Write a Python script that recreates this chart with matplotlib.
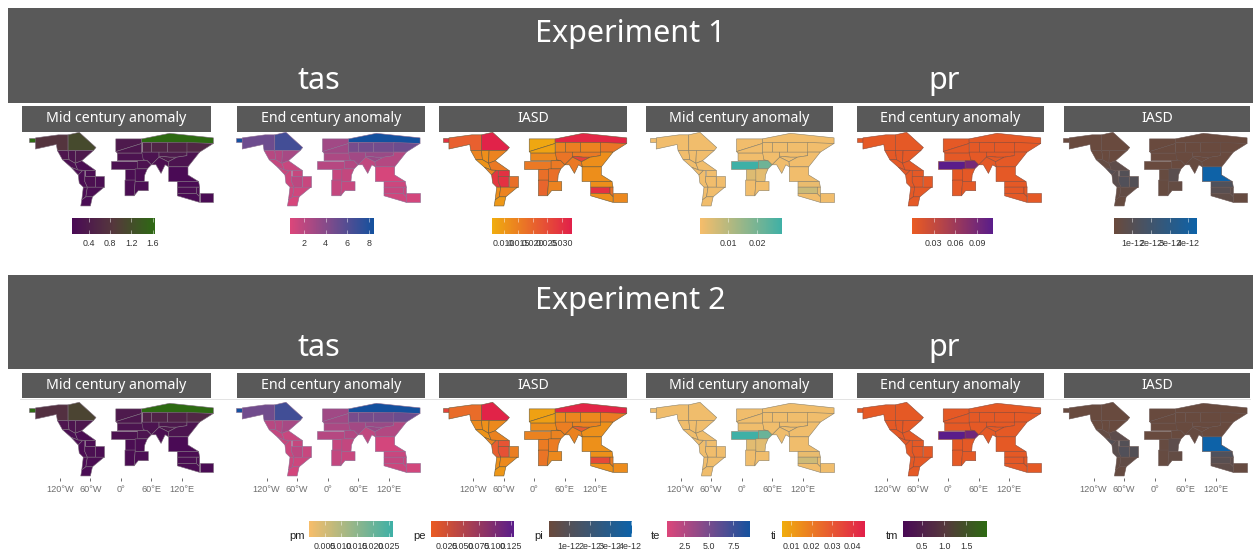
import matplotlib
matplotlib.use("Agg")
import matplotlib.pyplot as plt
from matplotlib.collections import PolyCollection
from matplotlib.colors import LinearSegmentedColormap, Normalize
from matplotlib.cm import ScalarMappable
from matplotlib.patches import Rectangle

W, H = 1253, 550

# region outlines, lon/lat
ALK = [(-180,73),(-168,73),(-168,64),(-180,64)]
NWN = [(-168,73),(-123,79),(-104,79),(-104,48),(-125,48),(-127,60),(-168,51)]
NEN = [(-104,79),(-82,84),(-49,54),(-54,48),(-104,48)]
WNA = [(-125,48),(-104,48),(-102,30),(-115,30)]
CNA = [(-104,48),(-89,48),(-90,23),(-102,30)]
ENA = [(-89,48),(-54,48),(-77,28),(-90,23)]
NCA = [(-115,30),(-102,30),(-90,23),(-85,10),(-98,15)]
SCA = [(-98,15),(-85,10),(-75,9),(-84,0)]
CAR = [(-90,23),(-77,28),(-50,9),(-71,9),(-85,10)]
NWS = [(-84,0),(-75,9),(-71,9),(-71,-13),(-66,-24),(-74,-24),(-82,-16)]
NSA = [(-71,9),(-50,9),(-50,-3),(-71,-3)]
NES = [(-50,-3),(-33,-3),(-33,-24),(-50,-24)]
SAM = [(-71,-3),(-50,-3),(-50,-24),(-66,-24),(-71,-13)]
SWS = [(-74,-24),(-66,-24),(-69,-43),(-77,-49)]
SES = [(-66,-24),(-33,-24),(-56,-43),(-69,-43)]
SSA = [(-77,-49),(-69,-43),(-56,-43),(-60,-61),(-79,-61)]
NEU = [(-10,71),(41,71),(41,62),(-10,46)]
WCE = [(-10,46),(41,62),(41,43),(-7,43)]
MED = [(-7,43),(44,43),(44,30),(52,28),(-7,28)]
SAH = [(-20,28),(33,28),(33,12),(-20,12)]
RAR = [(41,71),(96,82),(182,73),(182,62),(41,64)]
EEU = [(41,64),(60,64),(60,45),(41,45)]
WSB = [(60,64),(90,64),(90,45),(60,45)]
ESB = [(90,64),(130,64),(130,45),(90,45)]
RFE = [(130,64),(182,62),(155,45),(130,45)]
WCA = [(41,45),(75,45),(75,35),(60,20),(52,28),(44,30)]
ECA = [(75,45),(130,45),(130,38),(110,35),(96,35),(75,37)]
TIB = [(75,37),(96,35),(110,35),(93,26),(75,35)]
EAS = [(130,45),(155,45),(132,16),(94,16),(93,26),(110,35),(130,38)]
ARP = [(33,28),(52,28),(60,20),(52,12),(33,12)]
SAS = [(60,20),(75,35),(93,26),(94,16),(87,20),(79,3),(69,20)]
SEA = [(94,16),(132,16),(132,0),(153,-13),(94,-13)]
NAU = [(111,-13),(153,-13),(155,-24),(111,-24)]
CAU = [(111,-24),(149,-24),(149,-37),(111,-36)]
EAU = [(149,-24),(155,-24),(155,-43),(149,-37)]
SAU = [(111,-36),(149,-37),(155,-43),(155,-54),(111,-41)]
NZL = [(155,-35),(182,-35),(182,-54),(155,-54)]
WAF = [(8,12),(28,12),(28,-10),(8,-10)]
CAF = [(28,12),(52,12),(47,0),(46,-13),(28,-13)]
WSF = [(8,-10),(28,-10),(28,-13),(26,-41),(8,-41)]
ESF = [(28,-13),(54,-13),(54,-31),(34,-31),(26,-41)]

regions = [ALK,NWN,NEN,WNA,CNA,ENA,NCA,SCA,CAR,NWS,NSA,NES,SAM,SWS,SES,SSA,
           NEU,WCE,MED,SAH,RAR,EEU,WSB,ESB,RFE,WCA,ECA,TIB,EAS,ARP,SAS,SEA,NAU,CAU,EAU,SAU,NZL,WAF,CAF,WSF,ESF]

# experiment 1, same region order
tm1 = [1.65,.8,1.15,.3,.3,.35,.2,.15,.15,.15,.15,.15,.2,.15,.15,.12,
       .35,.3,.25,.22,1.65,.5,.55,.55,.6,.25,.35,.35,.25,.25,.2,.09,.12,.15,.15,.12,.12,.15,.15,.15,.15]
te1 = [8.4,5,6.6,2.2,2.3,2.8,1.7,1.4,1.5,1.4,1.6,1.5,2,1.4,1.3,1.0,
       3,3,2.6,2.2,8.4,4.6,4.7,4.7,5,3,3.3,3.3,2.3,2.4,1.8,1,1.4,1.6,1.6,1.3,1.1,1.6,1.7,1.7,1.5]
ti1 = [.03,.021,.033,.014,.012,.014,.011,.014,.016,.029,.03,.018,.03,.012,.014,.01,
       .007,.008,.013,.016,.032,.014,.015,.014,.017,.017,.016,.027,.012,.016,.016,.012,.012,.03,.018,.012,.013,.018,.018,.02,.014]
pm1 = [.001,.001,.001,.001,.001,.001,.001,.001,.001,.001,.001,.001,.001,.001,.001,.001,
       .001,.001,.001,.0285,.001,.001,.001,.001,.001,.001,.001,.001,.001,.021,.001,.001,.002,.007,.002,.001,.001,.004,.003,.001,.001]
pe1 = [.004,.004,.004,.004,.004,.004,.004,.004,.004,.004,.004,.004,.004,.004,.004,.004,
       .004,.004,.004,.112,.004,.004,.004,.004,.004,.004,.004,.004,.004,.09,.004,.004,.004,.006,.004,.004,.004,.005,.005,.004,.004]
pi1 = [.1,.1,.1,.1,.1,.1,.3,1,.6,.8,1.1,1.1,1.2,.3,.4,.2,
       .1,.1,.1,.1,.1,.1,.1,.1,.1,.1,.1,.1,.1,.1,.2,4.4,1.3,.9,.6,.5,.2,.2,.8,.2,.3]

# experiment 2
tm2 = [1.96,.85,1.25,.3,.3,.35,.2,.15,.15,.15,.15,.15,.2,.15,.15,.12,
       .4,.35,.28,.25,1.96,.55,.6,.6,.7,.28,.38,.38,.28,.28,.2,.09,.14,.16,.15,.14,.12,.15,.15,.15,.15]
te2 = [9.2,5.3,7.3,2.3,2.4,3,1.8,1.5,1.6,1.5,1.7,1.6,2.1,1.5,1.4,1.1,
       3.3,3.2,2.8,2.4,9.2,5,5.1,5.1,5.5,3.2,3.6,3.6,2.5,2.6,1.9,1.1,1.6,1.8,1.7,1.5,1.2,1.7,1.8,1.8,1.6]
ti2 = [.036,.024,.045,.016,.014,.016,.013,.017,.018,.028,.031,.019,.032,.014,.016,.012,
       .009,.01,.015,.018,.044,.016,.017,.016,.02,.019,.018,.029,.014,.018,.018,.014,.014,.034,.02,.014,.015,.02,.02,.022,.016]
pm2 = [.001,.001,.001,.001,.001,.001,.001,.001,.001,.001,.001,.001,.001,.001,.001,.001,
       .001,.001,.001,.026,.001,.001,.001,.001,.001,.001,.001,.001,.001,.02,.001,.001,.002,.006,.002,.001,.001,.003,.003,.001,.001]
pe2 = [.005,.005,.005,.005,.005,.005,.005,.005,.005,.005,.005,.005,.005,.005,.005,.005,
       .005,.005,.005,.13,.005,.005,.005,.005,.005,.005,.005,.005,.005,.11,.005,.005,.005,.007,.005,.005,.005,.006,.006,.005,.005]
pi2 = [.1,.1,.1,.1,.1,.1,.3,1,.6,.7,1,1,1.1,.3,.4,.2,
       .1,.1,.1,.1,.1,.1,.1,.1,.1,.1,.1,.1,.1,.1,.2,4.05,1.2,.8,.6,.5,.2,.2,.6,.2,.3]

strip_labels = ["Mid century anomaly", "End century anomaly", "IASD",
                "Mid century anomaly", "End century anomaly", "IASD"]
exp_titles = ["Experiment 1", "Experiment 2"]
var_titles = ["tas", "pr"]
lon_ticks = [-120, -60, 0, 60, 120]
lon_labels = ["120°W", "60°W", "0°", "60°E", "120°E"]

cmaps = {
    "tm": ("#4a0a55", "#55383c", "#2d6a12"),
    "te": ("#dc467a", "#14519e"),
    "ti": ("#f0ad0e", "#e11f4a"),
    "pm": ("#f6bd6a", "#3eb0a6"),
    "pe": ("#ea5b22", "#5a1d8a"),
    "pi": ("#6a4a3c", "#0d62a8"),
}
edge_cols = {"tm": "#7a6a7a", "te": "#8a6a90", "ti": "#6a5a3a", "pm": "#8a8068", "pe": "#8a4a38", "pi": "#66524e"}
panel_keys = ["tm", "te", "ti", "pm", "pe", "pi"]

# colorbars of experiment 1: range, ticks, labels
cb1_lims = [(.087,1.649),(.75,8.4),(.0058,.0337),(.0002,.0286),(0,.112),(.02,4.46)]
cb1_ticks = [[.4,.8,1.2,1.6],[2,4,6,8],[.01,.015,.02,.025,.03],[.01,.02],[.03,.06,.09],[1,2,3,4]]
cb1_labels = [["0.4","0.8","1.2","1.6"],["2","4","6","8"],
              ["0.010","0.015","0.020","0.025","0.030"],["0.01","0.02"],
              ["0.03","0.06","0.09"],["1e-12","2e-12","3e-12","4e-12"]]

# shared legend of experiment 2
leg_keys = ["pm","pe","pi","te","ti","tm"]
leg_lims = [(.0001,.02625),(.0006,.13),(.01,4.05),(.73,9.23),(.0056,.0462),(.08,1.96)]
leg_ticks = [[.005,.01,.015,.02,.025],[.025,.05,.075,.1,.125],[1,2,3,4],[2.5,5,7.5],[.01,.02,.03,.04],[.5,1,1.5]]
leg_labels = [["0.005","0.010","0.015","0.020","0.025"],["0.025","0.050","0.075","0.100","0.125"],
              ["1e-12","2e-12","3e-12","4e-12"],["2.5","5.0","7.5"],
              ["0.01","0.02","0.03","0.04"],["0.5","1.0","1.5"]]

grey = "#595959"
sans = "Liberation Sans"

fig = plt.figure(figsize=(W/100, H/100), dpi=100)


def ax_px(x0, y0, x1, y1):
    return fig.add_axes([x0/W, 1-y1/H, (x1-x0)/W, (y1-y0)/H])


def get_cmap(key):
    return LinearSegmentedColormap.from_list(key, cmaps[key])


def draw_map(x0, y_top, vals, key, lims, bottom_axis):
    ax = ax_px(x0-2.7, y_top, x0+185.6, y_top+78.3)
    pc = PolyCollection(regions, array=vals, cmap=get_cmap(key), norm=Normalize(*lims),
                        edgecolors=edge_cols[key], linewidths=0.4)
    ax.add_collection(pc)
    ax.set_xlim(-185.6, 185)
    ax.set_ylim(-65.6, 88.5)
    for s in ax.spines.values():
        s.set_visible(False)
    ax.patch.set_alpha(0)
    ax.set_yticks([])
    if bottom_axis:
        ax.set_xticks(lon_ticks, lon_labels)
        ax.tick_params(axis="x", length=2, width=0.6, color="#555555", pad=2.5,
                       labelsize=6.6, labelcolor="#6e6e6e")
        for t in ax.get_xticklabels():
            t.set_family(sans)
    else:
        ax.set_xticks([])


def draw_bar(x0, x1, y0, y1, key, lims, ticks, labels, size):
    cax = ax_px(x0, y0, x1, y1)
    sm = ScalarMappable(norm=Normalize(*lims), cmap=get_cmap(key))
    cb = fig.colorbar(sm, cax=cax, orientation="horizontal")
    cb.outline.set_visible(False)
    cb.set_ticks(ticks, labels=labels)
    cb.minorticks_off()
    cax.tick_params(axis="x", direction="in", length=3, width=0.5, color="#ffffffaa", top=True,
                    pad=3.5, labelsize=size, labelcolor="#333333")
    for t in cax.get_xticklabels():
        t.set_family(sans)


# background: banners and strips
bg = fig.add_axes([0, 0, 1, 1])
bg.set_xlim(0, W)
bg.set_ylim(H, 0)
bg.axis("off")

strip_x = [(22,211),(237,425),(439,627),(646,833),(857,1044),(1064,1250)]
map_x = [29.3, 236, 442.7, 650, 856.7, 1063]
all_vals = [[tm1,te1,ti1,pm1,pe1,pi1], [tm2,te2,ti2,pm2,pe2,pi2]]
lims2 = dict(zip(leg_keys, leg_lims))

banner_y = [(8,103), (275,369)]
title_y = [34, 301]
var_y = [81, 348]
strip_y = [(106,132), (373,398)]

for e in range(2):
    top, bottom = banner_y[e]
    bg.add_patch(Rectangle((8, top), W-8, bottom-top, color=grey, lw=0))
    bg.text(630, title_y[e], exp_titles[e], color="white", fontsize=22,
            family="Noto Sans", ha="center", va="center")
    bg.text(319, var_y[e], var_titles[0], color="white", fontsize=22,
            family="Noto Sans", ha="center", va="center")
    bg.text(944, var_y[e], var_titles[1], color="white", fontsize=22,
            family="Noto Sans", ha="center", va="center")
    s0, s1 = strip_y[e]
    for i, (sx0, sx1) in enumerate(strip_x):
        bg.add_patch(Rectangle((sx0, s0), sx1-sx0, s1-s0, color=grey, lw=0))
        bg.text((sx0+sx1)/2, (s0+s1)/2, strip_labels[i], color="white", fontsize=10.2,
                family="Noto Sans", ha="center", va="center")
        key = panel_keys[i]
        if e == 0:
            lims = cb1_lims[i]
        else:
            lims = lims2[key]
        draw_map(map_x[i], 130+270*e, all_vals[e][i], key, lims, e == 1)

bg.plot([20, 1250], [398.5, 398.5], color="#d8d8d8", lw=0.5)

# colorbars under the experiment 1 maps
cb1_x = [(72.3,155.3),(290,373.7),(492,572.3),(700,782.3),(912.3,992.7),(1114,1197)]
for i, (x0, x1) in enumerate(cb1_x):
    draw_bar(x0, x1, 217.5, 234, panel_keys[i], cb1_lims[i], cb1_ticks[i], cb1_labels[i], 6.4)

# shared legend at the bottom
leg_x = [(309.3,393),(431,514.3),(548.7,631.7),(667,750.3),(782,865.3),(903.3,986.7)]
leg_name_x = [297, 420, 539, 655, 774, 892]
for i, (x0, x1) in enumerate(leg_x):
    draw_bar(x0, x1, 520.5, 537, leg_keys[i], leg_lims[i], leg_ticks[i], leg_labels[i], 6.4)
    bg.text(leg_name_x[i], 536, leg_keys[i], fontsize=8, family=sans, color="#222222",
            ha="center", va="center")

fig.savefig("out.png", dpi=100)
